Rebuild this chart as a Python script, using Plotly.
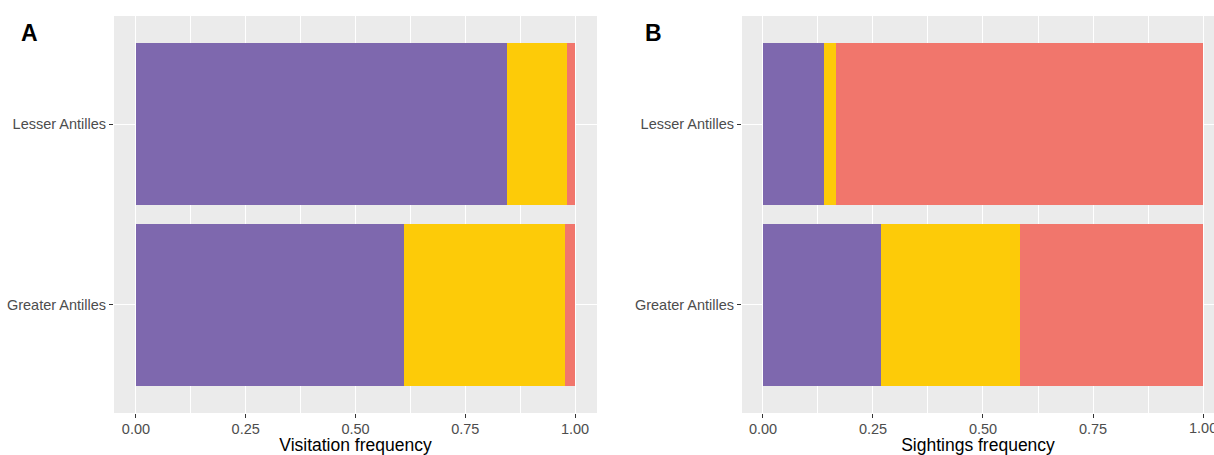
import plotly.graph_objects as go

# Regions on the y axis (bottom to top)
regions = ["Greater Antilles", "Lesser Antilles"]

# Panel A: visitation frequency per group, stacked to 1
visit_purple = [0.610, 0.845]
visit_yellow = [0.367, 0.136]
visit_red = [0.023, 0.019]

# Panel B: sightings frequency per group, stacked to 1
sight_purple = [0.269, 0.139]
sight_yellow = [0.315, 0.028]
sight_red = [0.416, 0.833]

x_ticks = [0, 0.25, 0.5, 0.75, 1.0]
x_ticktext = ["0.00", "0.25", "0.50", "0.75", "1.00"]

colors = ["#7E68AE", "#FDCB08", "#F1766C"]
W, H = 1214, 455

fig = go.Figure()

for vals, xa, ya in [
    ((visit_purple, visit_yellow, visit_red), "x", "y"),
    ((sight_purple, sight_yellow, sight_red), "x2", "y2"),
]:
    for v, c in zip(vals, colors):
        fig.add_trace(go.Bar(
            y=regions, x=v, orientation="h", marker=dict(color=c, line=dict(width=0)),
            width=0.9, xaxis=xa, yaxis=ya, showlegend=False, hoverinfo="x+y",
        ))

font = "Liberation Sans, Arial, sans-serif"
tick_font = dict(family=font, size=14.5, color="#4D4D4D")
y_top = 1 - 16 / H
y_bot = 1 - 413 / H

def xaxis_cfg(domain, rng, title):
    return dict(
        domain=domain, range=rng, tickvals=x_ticks, ticktext=x_ticktext,
        showgrid=True, gridcolor="white", gridwidth=1.1, zeroline=False,
        ticks="outside", ticklen=4, tickwidth=1.1, tickcolor="#333333",
        tickfont=tick_font, ticklabelstandoff=-1, automargin=False,
        minor=dict(tickvals=[0.125, 0.375, 0.625, 0.875], showgrid=True,
                   gridcolor="white", gridwidth=0.5, ticks=""),
        title=dict(text=title, font=dict(family=font, size=17.5, color="black"), standoff=7),
        showline=False, fixedrange=True,
    )

def yaxis_cfg(anchor):
    return dict(
        domain=[y_bot, y_top], anchor=anchor, type="category",
        categoryorder="array", categoryarray=regions, range=[-0.6, 1.6],
        showgrid=True, gridcolor="white", gridwidth=1.1, zeroline=False,
        ticks="outside", ticklen=4, tickwidth=1.1, tickcolor="#333333",
        tickfont=tick_font, automargin=False,
        showline=False, fixedrange=True,
    )

fig.update_layout(
    width=W, height=H, margin=dict(l=0, r=0, t=0, b=0, autoexpand=False),
    paper_bgcolor="white", plot_bgcolor="#EBEBEB",
    barmode="stack", bargap=0,
    xaxis=xaxis_cfg([114 / W, 597 / W], [-0.05, 1.05], "Visitation frequency") | dict(anchor="y"),
    yaxis=yaxis_cfg("x"),
    xaxis2=xaxis_cfg([742 / W, 1.0], [-0.0477, 1.025], "Sightings frequency") | dict(anchor="y2"),
    yaxis2=yaxis_cfg("x2"),
    annotations=[
        dict(text="<b>A</b>", x=29 / W, y=1 - 33 / H, xref="paper", yref="paper",
             xanchor="center", yanchor="middle", showarrow=False,
             font=dict(family=font, size=23, color="black")),
        dict(text="<b>B</b>", x=653 / W, y=1 - 33 / H, xref="paper", yref="paper",
             xanchor="center", yanchor="middle", showarrow=False,
             font=dict(family=font, size=23, color="black")),
        # last tick label of panel B runs off the right edge of the page
        dict(text=x_ticktext[-1], x=x_ticks[-1], xref="x2", y=y_bot, yref="paper",
             xanchor="center", yanchor="top", yshift=-5, showarrow=False,
             font=tick_font),
    ],
)

fig.write_html("out.html")
